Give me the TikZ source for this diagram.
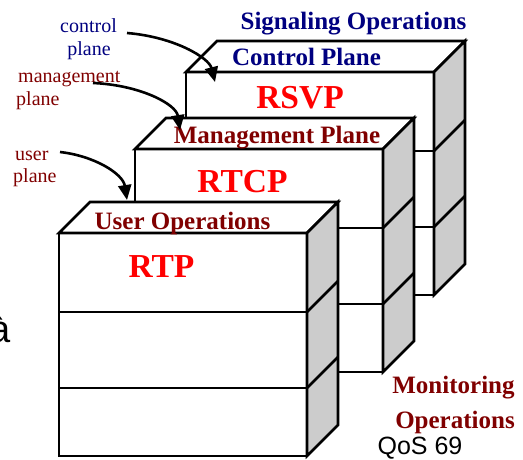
\documentclass[tikz,border=0pt]{standalone}
\usepackage{fontspec}
\setmainfont{Liberation Serif}
\newfontfamily\arialfont{Liberation Sans}
\usetikzlibrary{arrows.meta}
\definecolor{navyblue}{RGB}{0,0,128}
\definecolor{maroon}{RGB}{128,0,0}
\definecolor{sidegray}{RGB}{204,204,204}
\newcommand{\fsz}[1]{\fontsize{#1}{#1}\selectfont}
% one stacked block of three layers; #1 = front-top-left corner
\newcommand{\layerblock}[1]{%
  \begin{scope}[shift={#1}]
    \draw[edge,fill=white] (0,0) rectangle (248,223);
    \draw[edge] (0,79) -- (248,79);
    \draw[edge] (0,155) -- (248,155);
    \draw[edge,fill=white] (0,0) -- (31,-31) -- (279,-31) -- (248,0) -- cycle;
    \draw[edge,fill=sidegray] (248,0) -- (279,-31) -- (279,192) -- (248,223) -- cycle;
    \draw[edge] (248,79) -- (279,48);
    \draw[edge] (248,155) -- (279,124);
  \end{scope}}
\begin{document}
\begin{tikzpicture}[x=1pt,y=-1pt,
  edge/.style={line width=2.6pt,line join=miter},
  title/.style={inner sep=0pt,anchor=base,font=\bfseries\fsz{25}},
  proto/.style={inner sep=0pt,anchor=base,font=\bfseries\fsz{33.5},text=red},
  side/.style={inner sep=0pt,anchor=base,font=\fsz{20}},
  pointer/.style={line width=2.6pt,-{Triangle[length=15pt,width=13pt]}}]
\useasboundingbox (0,0) rectangle (523,459);

% three layered blocks, back to front
\layerblock{(186,72)}
\layerblock{(135,149)}
\layerblock{(59,233)}

% block titles and protocols
\node[title,text=navyblue] (sig) at (353.5,29) {Signaling Operations};
\node[title,text=navyblue] (ctrlp) at (306.5,65) {Control Plane};
\node[proto] (rsvp) at (300,108) {RSVP};
\node[title,text=maroon] (mgmtp) at (277,143) {Management Plane};
\node[proto] (rtcp) at (242.5,192) {RTCP};
\node[title,text=maroon] (userop) at (182.5,229) {User Operations};
\node[proto] (rtp) at (161.5,277) {RTP};
\node[title,text=maroon] (mon1) at (453.5,393) {Monitoring};
\node[title,text=maroon] (mon2) at (455,428) {Operations};
\node[inner sep=0pt,anchor=base,font=\arialfont\fsz{25}] (qos) at (420,454) {QoS 69};
\node[inner sep=0pt,anchor=base east,font=\arialfont\fsz{38}] (agrave) at (11,342) {à};

% side labels
\node[side,text=navyblue] (cl1) at (88.5,32) {control};
\node[side,text=navyblue] (cl2) at (89,55) {plane};
\node[side,text=maroon,anchor=base west] (ml1) at (18,82) {management};
\node[side,text=maroon,anchor=base west] (ml2) at (16,105) {plane};
\node[side,text=maroon,anchor=base west] (ul1) at (15,160) {user};
\node[side,text=maroon,anchor=base west] (ul2) at (13,182) {plane};

% pointers from the labels to the planes
\coordinate (cs) at (127,33);
\coordinate (ct) at (215,82);
\coordinate (ms) at (93,83);
\coordinate (mt) at (180,130);
\coordinate (us) at (60,152);
\coordinate (ut) at (127,200);
\draw[pointer] (cs) .. controls (175,37) and (209,58) .. (ct);
\draw[pointer] (ms) .. controls (140,85) and (176,104) .. (mt);
\draw[pointer] (us) .. controls (95,156) and (123,174) .. (ut);
\end{tikzpicture}
\end{document}
